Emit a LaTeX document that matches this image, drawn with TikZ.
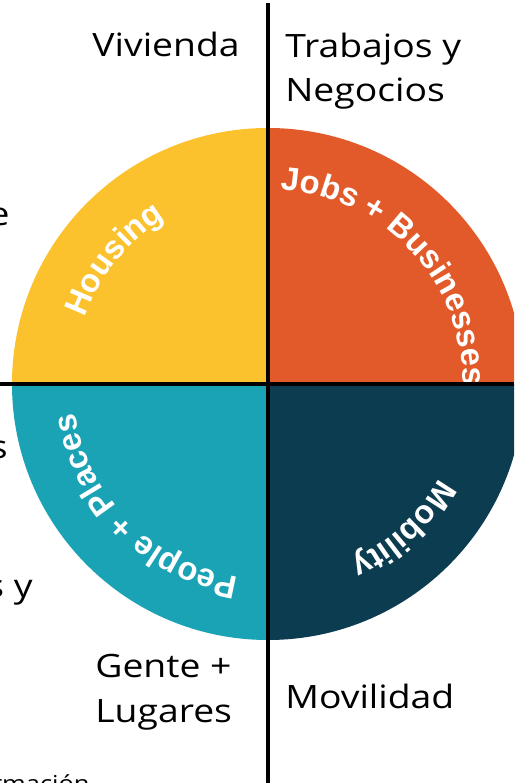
\documentclass[tikz,border=0pt]{standalone}
\usepackage{fontspec}
\setmainfont[FakeStretch=1.16]{Open Sans}
\newfontfamily\quadfont{Liberation Sans}
\usetikzlibrary{positioning,decorations.text}
\definecolor{mdYellow}{RGB}{252,194,45}
\definecolor{mdOrange}{RGB}{226,90,42}
\definecolor{mdTeal}{RGB}{26,163,181}
\definecolor{mdNavy}{RGB}{12,60,80}
\newcommand{\quadstyle}{\quadfont\bfseries\fontsize{18.6}{22}\selectfont}
\tikzset{
    esp/.style={font=\fontsize{18.3}{25.5}\selectfont, inner sep=0pt, align=left},
    axis/.style={line width=2.3pt, black},
    quadtext/.style={decorate, decoration={text along path, text align=center,
                     text color=white, text format delimiters={|}{|}}}
}
\begin{document}
\begin{tikzpicture}
  \useasboundingbox (-5.36,-7.98) rectangle (4.92,7.68);
  \clip (-5.36,-7.98) rectangle (4.92,7.68);

  % four quarters of the wheel
  \coordinate (O) at (0,0);
  \fill[mdYellow] (O) -- (180:5.12) arc[start angle=180, end angle=90, radius=5.12] -- cycle;
  \fill[mdOrange] (O) -- (90:5.12) arc[start angle=90, end angle=0, radius=5.12] -- cycle;
  \fill[mdNavy] (O) -- (0:5.12) arc[start angle=0, end angle=-90, radius=5.12] -- cycle;
  \fill[mdTeal] (O) -- (-90:5.12) arc[start angle=-90, end angle=-180, radius=5.12] -- cycle;

  % curved labels
  \path[quadtext, decoration={text={|\quadstyle|Housing}}]
    (201:3.9) arc[start angle=201, end angle=81, radius=3.9];
  \path[quadtext, decoration={text={|\quadstyle|Jobs + Businesses}}]
    (103:3.9) arc[start angle=103, end angle=-17, radius=3.9];
  \path[quadtext, decoration={text={|\quadstyle|Mobility}}]
    (13:3.9) arc[start angle=13, end angle=-107, radius=3.9];
  \path[quadtext, decoration={text={|\quadstyle|People + Places}}]
    (285:3.9) arc[start angle=285, end angle=165, radius=3.9];

  % axes
  \coordinate (top) at (0,7.62);
  \coordinate (bottom) at (0,-7.98);
  \coordinate (left) at (-5.36,0);
  \coordinate (right) at (4.92,0);
  \draw[axis] (top) -- (bottom);
  \draw[axis] (left) -- (right);

  % spanish labels
  \node[esp, anchor=base east] (vivienda) at (-0.56,6.54) {Vivienda};
  \node[esp, anchor=base west] (trabajos) at (0.34,5.64) {Trabajos y\\Negocios};
  \node[esp, anchor=base west] (gente) at (-3.46,-6.76) {Gente +\\Lugares};
  \node[esp, anchor=base west] (movilidad) at (0.34,-6.48) {Movilidad};

  % cut off text at the left
  \node[esp, anchor=base east] (fragA) at (-5.16,3.16) {e};
  \node[esp, anchor=base east] (fragB) at (-5.2,-1.5) {s};
  \node[esp, anchor=base east] (fragC) at (-4.70,-4.28) {s y};
  \node[esp, font=\fontsize{12.5}{15}\selectfont, anchor=base east] (fragD) at (-3.56,-8.14) {rmación};
\end{tikzpicture}
\end{document}
